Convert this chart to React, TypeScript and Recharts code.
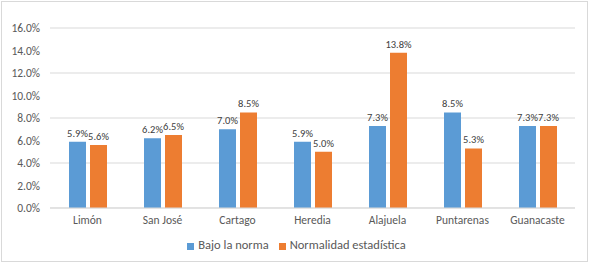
import { BarChart, Bar, XAxis, YAxis, CartesianGrid, Legend, LabelList } from 'recharts';

const provinces = ['Limón', 'San José', 'Cartago', 'Heredia', 'Alajuela', 'Puntarenas', 'Guanacaste'];
const bajoNorma = [5.9, 6.2, 7.0, 5.9, 7.3, 8.5, 7.3];
const normalidad = [5.6, 6.5, 8.5, 5.0, 13.8, 5.3, 7.3];
const yTicks = [0, 2, 4, 6, 8, 10, 12, 14, 16];

const data = provinces.map((p, i) => ({
  province: p,
  bajo: bajoNorma[i],
  normal: normalidad[i],
}));

const FONT = 'Carlito, Calibri, "Liberation Sans", sans-serif';
const pct = (v: number) => `${Number(v).toFixed(1)}%`;

export default function App() {
  return (
    <div style={{ position: 'absolute', left: 0, top: 0, width: 589, height: 263, background: '#fff' }}>
      <div style={{ position: 'absolute', left: 1, top: 1, width: 585, height: 259, border: '1px solid #d9d9d9' }} />
      <BarChart
        width={589}
        height={263}
        data={data}
        margin={{ top: 28, right: 14, left: 0, bottom: 9 }}
        barSize={17}
        barGap={4}
        style={{ fontFamily: FONT }}
      >
        <CartesianGrid vertical={false} stroke="#d9d9d9" />
        <XAxis
          dataKey="province"
          height={29}
          tickLine={false}
          axisLine={{ stroke: '#d9d9d9' }}
          tick={{ fill: '#595959', fontSize: 11.5 }}
          interval={0}
        />
        <YAxis
          width={50}
          domain={[0, 16]}
          ticks={yTicks}
          tickFormatter={pct}
          axisLine={false}
          tickLine={false}
          tickMargin={4}
          tick={{ fill: '#595959', fontSize: 11.5 }}
        />
        <Legend
          verticalAlign="bottom"
          iconType="square"
          iconSize={7}
          wrapperStyle={{ height: 17, fontSize: 12.5, color: '#595959', paddingLeft: 14 }}
          formatter={(v: string) => <span style={{ color: '#595959' }}>{v}</span>}
        />
        <Bar dataKey="bajo" name="Bajo la norma" fill="#5b9bd5" isAnimationActive={false}>
          <LabelList dataKey="bajo" position="top" formatter={pct} style={{ fill: '#404040', fontSize: 10.5 }} />
        </Bar>
        <Bar dataKey="normal" name="Normalidad estadística" fill="#ed7d31" isAnimationActive={false}>
          <LabelList dataKey="normal" position="top" formatter={pct} style={{ fill: '#404040', fontSize: 10.5 }} />
        </Bar>
      </BarChart>
    </div>
  );
}
